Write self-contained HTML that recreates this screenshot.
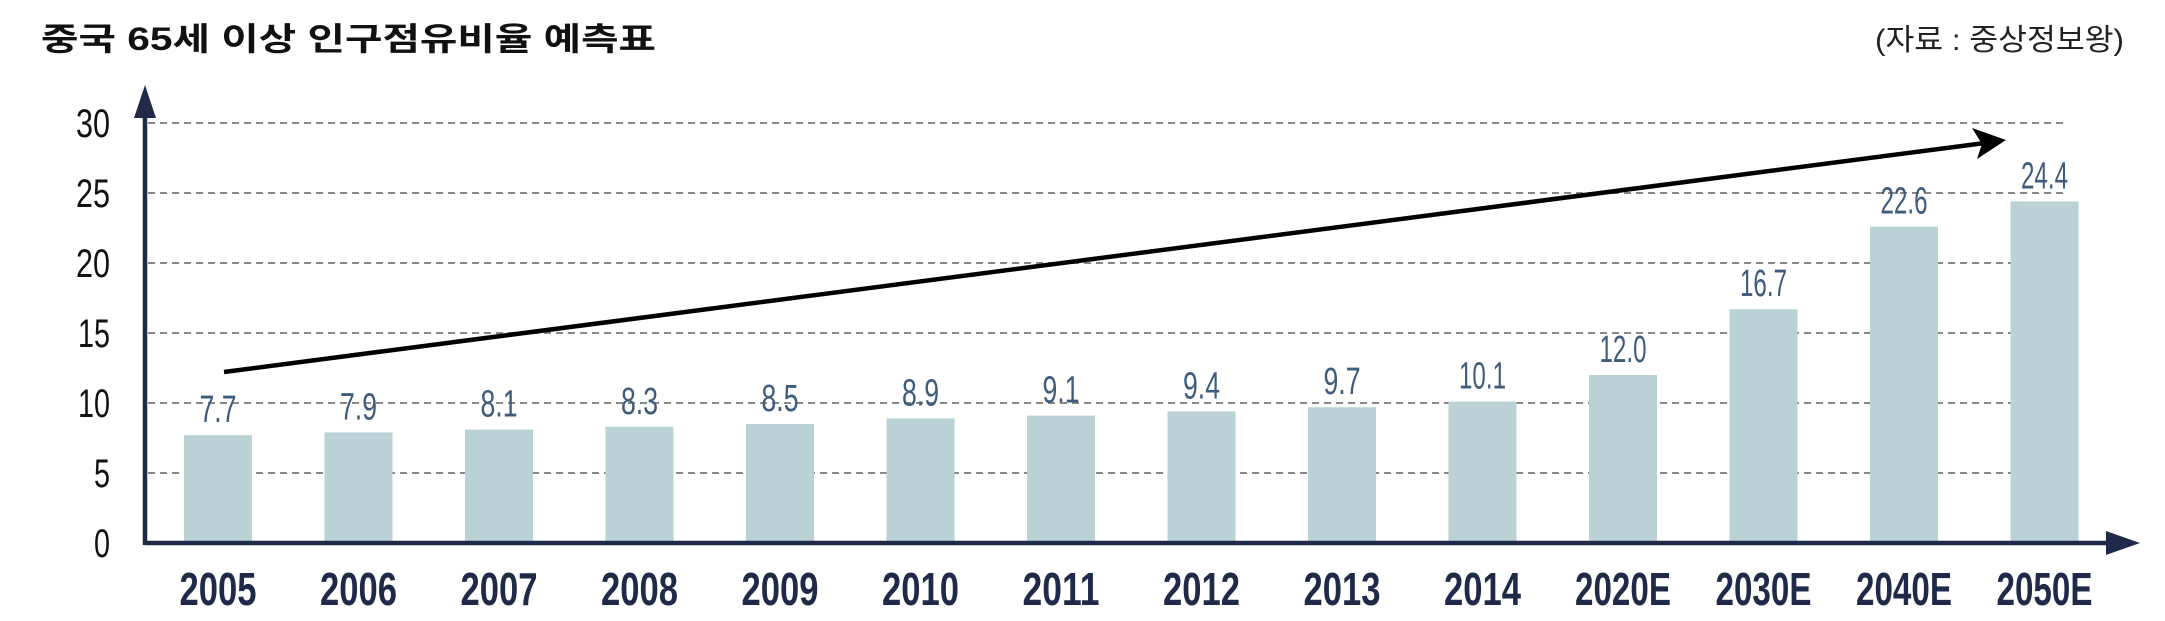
<!DOCTYPE html>
<html><head><meta charset="utf-8"><style>html,body{margin:0;padding:0;background:#fff}svg{display:block}</style></head>
<body>
<svg width="2165" height="621" viewBox="0 0 2165 621" xmlns="http://www.w3.org/2000/svg">
<text x="41" y="50" font-family="Liberation Sans, Noto Sans CJK KR, sans-serif" font-weight="bold" font-size="32" fill="#111" textLength="615" lengthAdjust="spacingAndGlyphs">중국 65세 이상 인구점유비율 예측표</text>
<text x="1875" y="50" font-family="Liberation Sans, Noto Sans CJK KR, sans-serif" font-size="30" fill="#222" textLength="249" lengthAdjust="spacingAndGlyphs">(자료 : 중상정보왕)</text>
<g stroke="#888" stroke-width="2" stroke-dasharray="7,5">
<line x1="148" y1="123" x2="2067" y2="123"/>
<line x1="148" y1="193" x2="2067" y2="193"/>
<line x1="148" y1="263" x2="2067" y2="263"/>
<line x1="148" y1="333" x2="2067" y2="333"/>
<line x1="148" y1="403" x2="2067" y2="403"/>
<line x1="148" y1="473" x2="2067" y2="473"/>
</g>
<g font-family="Liberation Sans, sans-serif" font-size="40" fill="#111" text-anchor="end">
<text x="110" y="137" textLength="34" lengthAdjust="spacingAndGlyphs">30</text>
<text x="110" y="207" textLength="34" lengthAdjust="spacingAndGlyphs">25</text>
<text x="110" y="277" textLength="34" lengthAdjust="spacingAndGlyphs">20</text>
<text x="110" y="347" textLength="32" lengthAdjust="spacingAndGlyphs">15</text>
<text x="110" y="417" textLength="32" lengthAdjust="spacingAndGlyphs">10</text>
<text x="110" y="487" textLength="16" lengthAdjust="spacingAndGlyphs">5</text>
<text x="110" y="557" textLength="16" lengthAdjust="spacingAndGlyphs">0</text>
</g>
<g id="bars" fill="#bad2d6"></g>
<g id="vals" font-family="Liberation Sans, sans-serif" font-size="38" fill="#3e5c7c" text-anchor="middle"></g>
<g id="xl" font-family="Liberation Sans, sans-serif" font-weight="bold" font-size="46" fill="#1e2a47" text-anchor="middle"></g>
<line x1="145" y1="543" x2="2110" y2="543" stroke="#1e2a47" stroke-width="4.5"/>
<polygon points="2140,543 2106,531 2106,555" fill="#1e2a47"/>
<line x1="145" y1="545" x2="145" y2="110" stroke="#1e2a47" stroke-width="4.5"/>
<polygon points="145,85 134,118 156,118" fill="#1e2a47"/>
<line x1="224" y1="372" x2="1985" y2="143" stroke="#000" stroke-width="4.5"/>
<polygon points="2006,140 1972,128 1982,144 1977,159" fill="#000"/>
<script>
var v=[7.7,7.9,8.1,8.3,8.5,8.9,9.1,9.4,9.7,10.1,12.0,16.7,22.6,24.4];
var l=["2005","2006","2007","2008","2009","2010","2011","2012","2013","2014","2020E","2030E","2040E","2050E"];
var ns="http://www.w3.org/2000/svg",b=document.getElementById('bars'),t=document.getElementById('vals'),x=document.getElementById('xl');
for(var i=0;i<14;i++){var c=218+140.5*i,h=v[i]*14;
var r=document.createElementNS(ns,'rect');r.setAttribute('x',c-34);r.setAttribute('y',543-h);r.setAttribute('width',68);r.setAttribute('height',h);b.appendChild(r);
var s=v[i].toFixed(1);var e=document.createElementNS(ns,'text');e.setAttribute('x',c);e.setAttribute('y',543-h-13);e.setAttribute('textLength',s.length==3?37:47);e.setAttribute('lengthAdjust','spacingAndGlyphs');e.textContent=s;t.appendChild(e);
var f=document.createElementNS(ns,'text');f.setAttribute('x',c);f.setAttribute('y',605);f.setAttribute('textLength',l[i].length==4?77:96);f.setAttribute('lengthAdjust','spacingAndGlyphs');f.textContent=l[i];x.appendChild(f);}
</script>
</svg>
</body></html>
